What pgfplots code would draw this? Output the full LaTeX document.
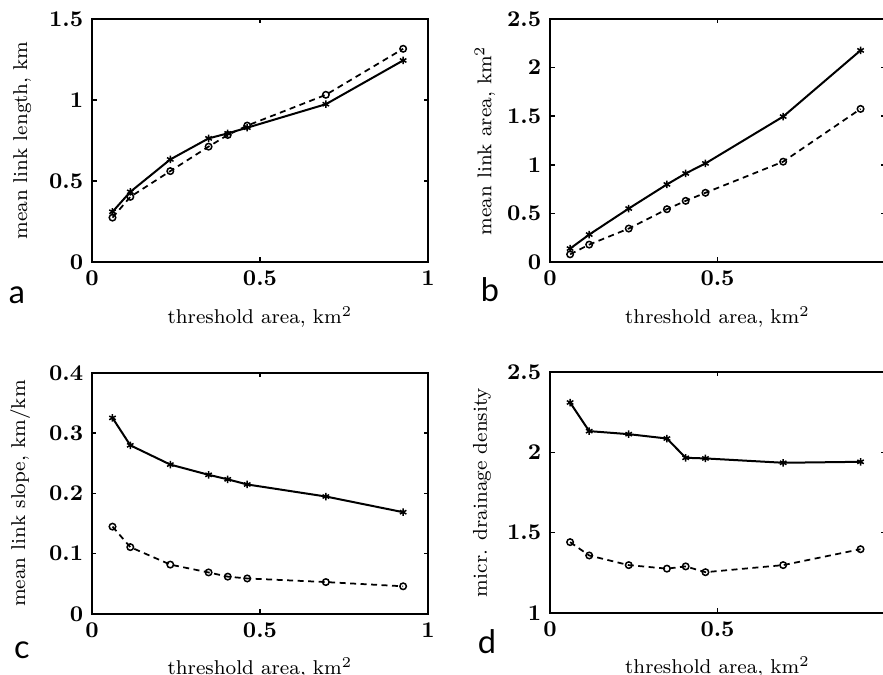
\documentclass[border=0pt]{standalone}
\usepackage{fontspec}
\usepackage{pgfplots}
\pgfplotsset{compat=1.18}
\newfontfamily\lettfont{Lato}
\begin{document}
\begin{tikzpicture}
\useasboundingbox (0pt,0pt) rectangle (353.2pt,270pt);
\pgfplotsset{
  every axis/.append style={
    scale only axis,
    xmin=0, xmax=1,
    axis line style={line width=0.7pt},
    tick style={line width=0.6pt, black},
    major tick length=1.8pt,
    tick align=inside,
    tick label style={font=\fontsize{8.6}{10}\selectfont\boldmath},
    label style={font=\footnotesize},
    xlabel style={at={(axis description cs:0.5,-0.225)}, anchor=center},
    ylabel style={anchor=center},
    clip=false,
  },
  solidser/.style={black, line width=0.8pt, mark=asterisk, mark size=1.5pt, mark options={solid, line width=0.6pt}},
  dashser/.style={black, line width=0.7pt, dash pattern=on 2.4pt off 1.8pt, mark=o, mark size=1.3pt, mark options={solid, line width=0.6pt}},
}
% panel a
\begin{axis}[at={(36.8pt,165.2pt)}, anchor=south west, width=134.4pt, height=97.2pt,
  ymin=0, ymax=1.5, xtick={0,0.5,1}, ytick={0,0.5,1,1.5},
  xlabel={threshold area, km$^2$}, ylabel={mean link length, km},
  ylabel style={at={(axis description cs:-0.208,0.5)}}]
\addplot[solidser] coordinates {(0.061,0.31) (0.114,0.433) (0.233,0.633) (0.347,0.763) (0.404,0.794) (0.462,0.829) (0.696,0.974) (0.926,1.244)};
\addplot[dashser] coordinates {(0.061,0.274) (0.114,0.402) (0.233,0.561) (0.347,0.712) (0.404,0.784) (0.462,0.842) (0.696,1.032) (0.926,1.316)};
\end{axis}
% panel b
\begin{axis}[at={(220pt,165.2pt)}, anchor=south west, width=134pt, height=97.2pt,
  ymin=0, ymax=2.5, xtick={0,0.5}, ytick={0,0.5,1,1.5,2,2.5},
  xlabel={threshold area, km$^2$}, ylabel={mean link area, km$^2$},
  ylabel style={at={(axis description cs:-0.194,0.5)}}]
\addplot[solidser] coordinates {(0.060,0.138) (0.117,0.282) (0.235,0.55) (0.349,0.798) (0.405,0.911) (0.464,1.014) (0.696,1.496) (0.927,2.177)};
\addplot[dashser] coordinates {(0.060,0.079) (0.117,0.179) (0.235,0.344) (0.349,0.543) (0.405,0.629) (0.464,0.712) (0.696,1.032) (0.927,1.575)};
\end{axis}
% panel c
\begin{axis}[at={(36.8pt,24.4pt)}, anchor=south west, width=134.4pt, height=96.4pt,
  ymin=0, ymax=0.4, xtick={0,0.5,1}, ytick={0,0.1,0.2,0.3,0.4},
  xlabel={threshold area, km$^2$}, ylabel={mean link slope, km/km},
  ylabel style={at={(axis description cs:-0.214,0.5)}}]
\addplot[solidser] coordinates {(0.061,0.3255) (0.114,0.280) (0.233,0.248) (0.347,0.231) (0.404,0.2235) (0.462,0.215) (0.696,0.195) (0.926,0.169)};
\addplot[dashser] coordinates {(0.061,0.145) (0.114,0.111) (0.233,0.082) (0.347,0.069) (0.404,0.062) (0.462,0.059) (0.696,0.053) (0.926,0.046)};
\end{axis}
% panel d
\begin{axis}[at={(220pt,24.8pt)}, anchor=south west, width=134pt, height=96.4pt,
  ymin=1, ymax=2.5, xtick={0,0.5}, ytick={1,1.5,2,2.5},
  xlabel={threshold area, km$^2$}, ylabel={micr. drainage density},
  ylabel style={at={(axis description cs:-0.203,0.5)}}]
\addplot[solidser] coordinates {(0.060,2.310) (0.117,2.132) (0.235,2.113) (0.349,2.086) (0.405,1.966) (0.464,1.962) (0.696,1.935) (0.927,1.941)};
\addplot[dashser] coordinates {(0.060,1.441) (0.117,1.358) (0.235,1.298) (0.349,1.276) (0.405,1.290) (0.464,1.254) (0.696,1.298) (0.927,1.397)};
\end{axis}
\node[font=\lettfont\fontsize{13}{15}\selectfont] at (6.8pt,152pt) {a};
\node[font=\lettfont\fontsize{13}{15}\selectfont] at (196pt,154pt) {b};
\node[font=\lettfont\fontsize{13}{15}\selectfont] at (8.8pt,10pt) {c};
\node[font=\lettfont\fontsize{13}{15}\selectfont] at (194.8pt,13.2pt) {d};
\end{tikzpicture}
\end{document}
